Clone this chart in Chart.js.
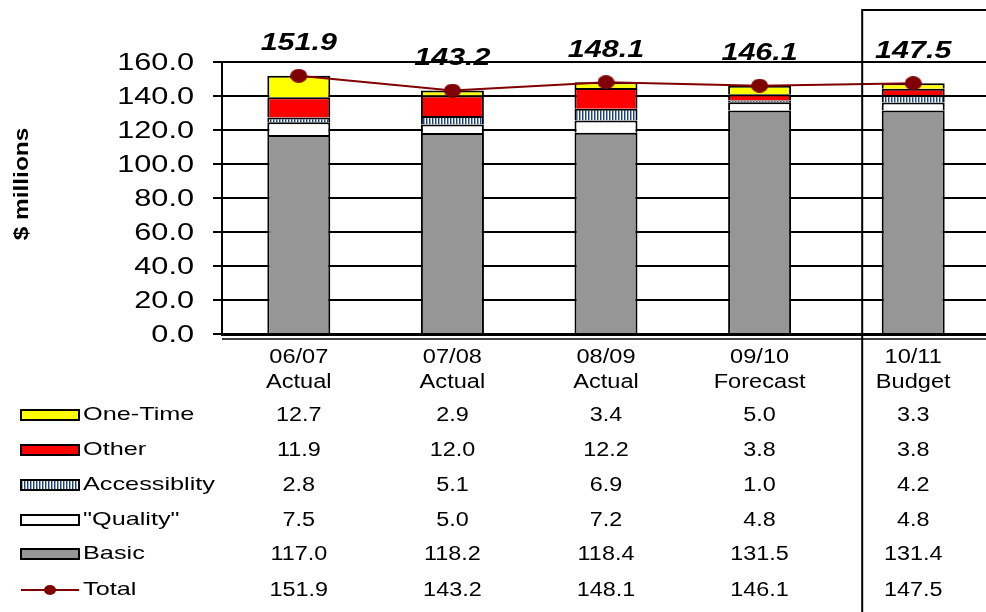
<!DOCTYPE html>
<html>
<head>
<meta charset="utf-8">
<script src="https://cdn.jsdelivr.net/npm/chart.js@4/dist/chart.umd.min.js"></script>
<style>
  html, body { margin: 0; padding: 0; overflow: hidden; background: #fff; }
  #wrap { width: 1000px; height: 612px; }
</style>
</head>
<body>
<div id="wrap"><canvas id="c" width="1000" height="612"></canvas></div>
<script>
// ---- data ----
const years    = ['06/07', '07/08', '08/09', '09/10', '10/11'];
const statuses = ['Actual', 'Actual', 'Actual', 'Forecast', 'Budget'];
const oneTime  = [12.7, 2.9, 3.4, 5.0, 3.3];
const other    = [11.9, 12.0, 12.2, 3.8, 3.8];
const access   = [2.8, 5.1, 6.9, 1.0, 4.2];
const quality  = [7.5, 5.0, 7.2, 4.8, 4.8];
const basic    = [117.0, 118.2, 118.4, 131.5, 131.4];
const total    = [151.9, 143.2, 148.1, 146.1, 147.5];
const seriesNames = ['One-Time', 'Other', 'Accessiblity', '"Quality"', 'Basic', 'Total'];
const yTitle = '$ millions';

const FONT = '"Liberation Sans", Arial, sans-serif';

// stripes pattern for Accessibility
function makePattern() {
  const p = document.createElement('canvas');
  p.width = 3; p.height = 4;
  const g = p.getContext('2d');
  g.fillStyle = '#ffffff'; g.fillRect(0, 0, 3, 4);
  g.fillStyle = '#23406e'; g.fillRect(0, 0, 1, 4);
  g.fillStyle = '#8eaad2'; g.fillRect(1, 0, 1, 4);
  return document.getElementById('c').getContext('2d').createPattern(p, 'repeat');
}
const stripe = makePattern();

function ellipseImg(w, h, color) {
  const e = document.createElement('canvas');
  e.width = w; e.height = h;
  const g = e.getContext('2d');
  g.fillStyle = color;
  g.beginPath();
  g.ellipse(w / 2, h / 2, w / 2, h / 2, 0, 0, Math.PI * 2);
  g.fill();
  return e;
}
const dot = ellipseImg(17, 14, '#800000');

function sText(ctx, text, x, y, font, sx, align) {
  ctx.save();
  ctx.translate(x, y);
  ctx.scale(sx, 1);
  ctx.font = font;
  ctx.textAlign = align;
  ctx.textBaseline = 'middle';
  ctx.fillStyle = '#000';
  ctx.fillText(text, 0, 0);
  ctx.restore();
}

const decor = {
  id: 'decor',
  afterDraw(chart) {
    const ctx = chart.ctx;
    const xs = chart.scales.x, ys = chart.scales.y;
    const area = chart.chartArea;

    // second axis line below zero line
    ctx.save();
    ctx.strokeStyle = '#000';
    ctx.lineWidth = 1.5;
    ctx.beginPath();
    ctx.moveTo(area.left, area.bottom + 5);
    ctx.lineTo(area.right, area.bottom + 5);
    ctx.stroke();
    ctx.restore();

    // y tick labels
    ys.ticks.forEach(t => {
      const py = ys.getPixelForValue(t.value);
      sText(ctx, t.value.toFixed(1), area.left - 28, py + 1, '24px ' + FONT, 1.28, 'right');
    });

    // y title
    ctx.save();
    ctx.translate(22, 184);
    ctx.rotate(-Math.PI / 2);
    ctx.scale(1.22, 1);
    ctx.font = 'bold 20px ' + FONT;
    ctx.textAlign = 'center';
    ctx.textBaseline = 'middle';
    ctx.fillStyle = '#000';
    ctx.fillText(yTitle, 0, 0);
    ctx.restore();

    // x labels
    years.forEach((yr, i) => {
      const px = xs.getPixelForValue(i);
      sText(ctx, yr, px, area.bottom + 23, '20px ' + FONT, 1.18, 'center');
      sText(ctx, statuses[i], px, area.bottom + 48, '20px ' + FONT, 1.18, 'center');
    });

    // total labels above points
    const lineMeta = chart.getDatasetMeta(5);
    lineMeta.data.forEach((pt, i) => {
      sText(ctx, total[i].toFixed(1), pt.x, pt.y - 32, 'italic bold 24px ' + FONT, 1.27, 'center');
    });

    // data table
    const rows = [oneTime, other, access, quality, basic, total];
    const fills = ['#ffff00', '#ff0000', stripe, '#ffffff', '#969696', null];
    const rowY = [415, 450, 485, 520, 554, 590];
    rows.forEach((vals, r) => {
      const ry = rowY[r];
      if (fills[r]) {
        ctx.save();
        ctx.fillStyle = fills[r];
        ctx.fillRect(21, ry - 5, 58, 10);
        ctx.strokeStyle = '#000';
        ctx.lineWidth = 2;
        ctx.strokeRect(21, ry - 5, 58, 10);
        ctx.restore();
      } else {
        ctx.save();
        ctx.strokeStyle = '#800000';
        ctx.lineWidth = 2;
        ctx.beginPath();
        ctx.moveTo(21, ry);
        ctx.lineTo(79, ry);
        ctx.stroke();
        ctx.fillStyle = '#800000';
        ctx.beginPath();
        ctx.ellipse(50, ry, 6, 5, 0, 0, Math.PI * 2);
        ctx.fill();
        ctx.restore();
      }
      sText(ctx, seriesNames[r], 83, ry, '19px ' + FONT, 1.33, 'left');
      vals.forEach((v, i) => {
        sText(ctx, v.toFixed(1), xs.getPixelForValue(i), ry, '20px ' + FONT, 1.17, 'center');
      });
    });

    // budget box
    const bx = xs.getPixelForValue(4) - 51;
    ctx.save();
    ctx.strokeStyle = '#000';
    ctx.lineWidth = 2;
    ctx.beginPath();
    ctx.moveTo(bx, chart.height);
    ctx.lineTo(bx, 10);
    ctx.lineTo(chart.width, 10);
    ctx.stroke();
    ctx.restore();
  }
};

const barCommon = {
  type: 'bar',
  stack: 'main',
  borderColor: '#000',
  borderWidth: 2,
  borderSkipped: 'start',
  barPercentage: 0.41,
  categoryPercentage: 1.0,
  order: 1
};

new Chart(document.getElementById('c'), {
  data: {
    labels: years,
    datasets: [
      Object.assign({}, barCommon, { label: 'Basic', data: basic, backgroundColor: '#969696' }),
      Object.assign({}, barCommon, { label: '"Quality"', data: quality, backgroundColor: '#ffffff' }),
      Object.assign({}, barCommon, { label: 'Accessiblity', data: access, backgroundColor: stripe }),
      Object.assign({}, barCommon, { label: 'Other', data: other, backgroundColor: '#ff0000' }),
      Object.assign({}, barCommon, { label: 'One-Time', data: oneTime, backgroundColor: '#ffff00' }),
      {
        type: 'line', label: 'Total', data: total, stack: 'total',
        borderColor: '#800000', borderWidth: 2, tension: 0,
        pointStyle: dot, pointRadius: 8, pointHoverRadius: 8,
        backgroundColor: '#800000', order: 0
      }
    ]
  },
  options: {
    responsive: false,
    animation: false,
    events: [],
    layout: { padding: { left: 213, right: 8, top: 62, bottom: 278 } },
    plugins: { legend: { display: false }, tooltip: { enabled: false } },
    scales: {
      x: {
        stacked: true,
        grid: { display: false, drawTicks: false },
        ticks: { display: false },
        border: { display: true, color: '#000', width: 3 }
      },
      y: {
        stacked: true,
        min: 0, max: 160,
        ticks: { display: false, stepSize: 20 },
        grid: { color: '#000', lineWidth: 2, drawTicks: true, tickLength: 9, tickColor: '#000', tickWidth: 2 },
        border: { display: true, color: '#000', width: 2 }
      }
    }
  },
  plugins: [decor]
});
</script>
</body>
</html>
